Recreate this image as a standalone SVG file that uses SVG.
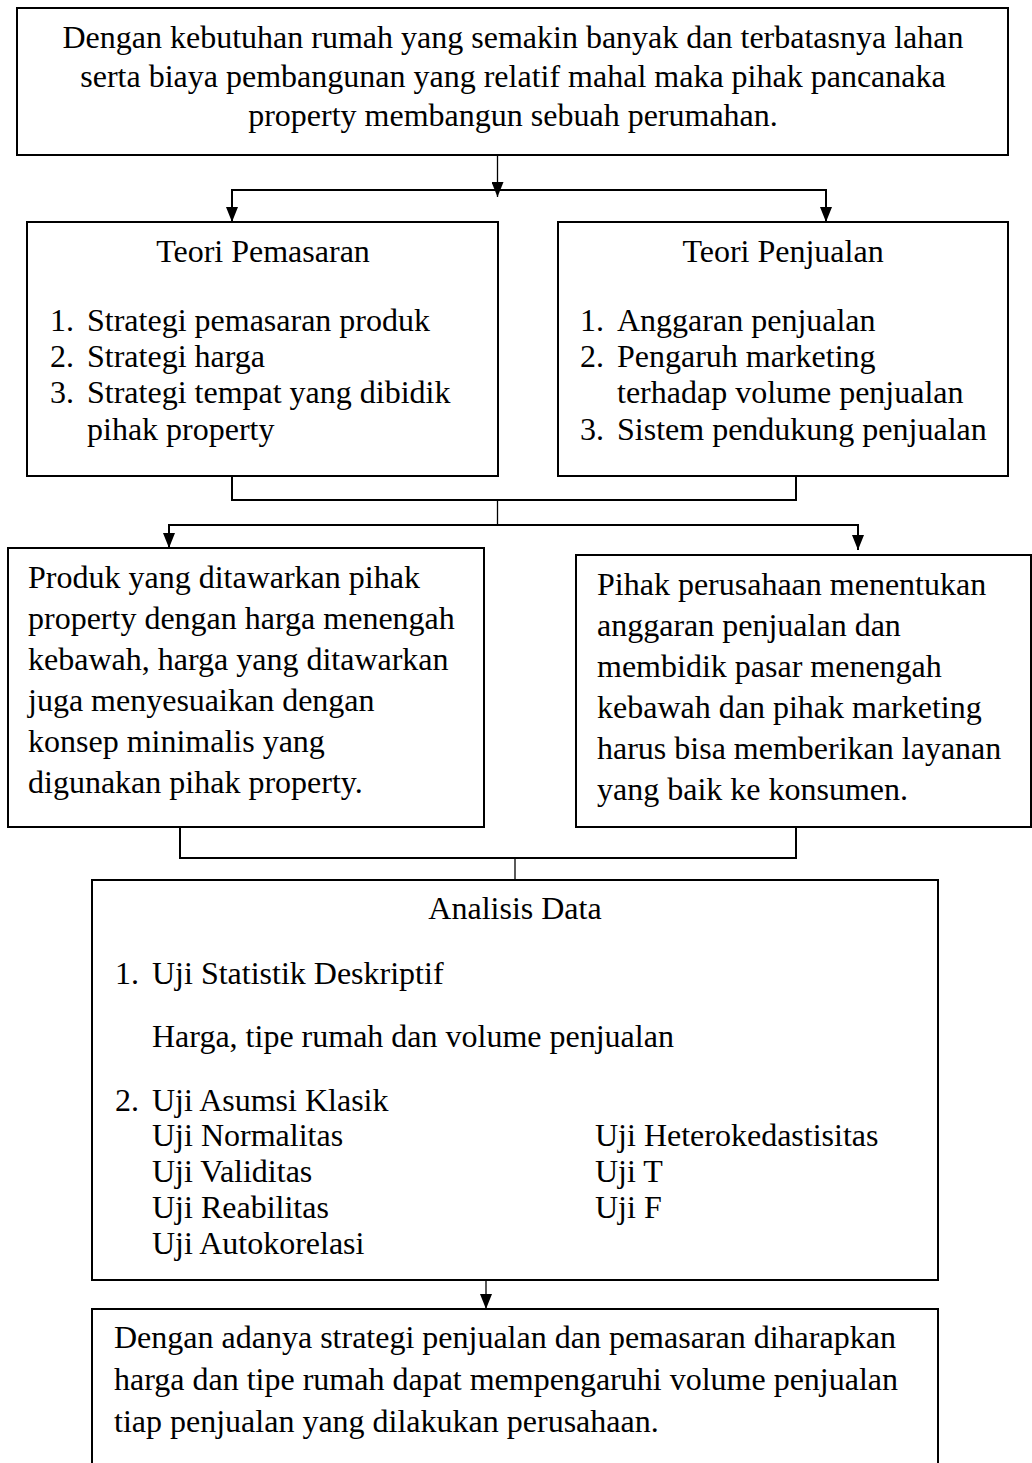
<svg xmlns="http://www.w3.org/2000/svg" width="1032" height="1463" viewBox="0 0 1032 1463">
<style>
text{font-family:"Liberation Serif","Times New Roman",serif;font-size:32px;fill:#000}
.c{text-anchor:middle}
.box{fill:#fff;stroke:#000;stroke-width:2}
.ln{fill:none;stroke:#000;stroke-width:2}
.thin{fill:none;stroke:#000;stroke-width:1.3}
</style>
<defs>
<marker id="ah" markerWidth="15" markerHeight="12" refX="15" refY="6" orient="auto-start-reverse" markerUnits="userSpaceOnUse" viewBox="0 0 15 12">
<path d="M0,0 L15,6 L0,12 Z" fill="#000"/>
</marker>
</defs>
<rect width="1032" height="1463" fill="#fff"/>
<g id="connectors">
<line class="thin" x1="497.5" y1="155" x2="497.5" y2="197" marker-end="url(#ah)"/>
<polyline class="ln" points="232,222 232,190 826,190 826,222" marker-start="url(#ah)" marker-end="url(#ah)"/>
<polyline class="ln" points="232,476 232,500 796,500 796,476"/>
<line class="thin" x1="497.5" y1="500" x2="497.5" y2="525"/>
<polyline class="ln" points="169,548 169,525 858,525 858,550" marker-start="url(#ah)" marker-end="url(#ah)"/>
<polyline class="ln" points="180,827 180,858 796,858 796,827"/>
<line class="thin" x1="515" y1="858" x2="515" y2="880"/>
<line class="thin" x1="486" y1="1280" x2="486" y2="1309" marker-end="url(#ah)"/>
</g>
<g id="n1">
<rect class="box" x="17" y="8" width="991" height="147"/>
<text class="c" x="513" y="48">Dengan kebutuhan rumah yang semakin banyak dan terbatasnya lahan</text>
<text class="c" x="513" y="87">serta biaya pembangunan yang relatif mahal maka pihak pancanaka</text>
<text class="c" x="513" y="126">property membangun sebuah perumahan.</text>
</g>
<g id="n2">
<rect class="box" x="27" y="222" width="471" height="254"/>
<text class="c" x="263" y="262">Teori Pemasaran</text>
<text x="50" y="331">1.</text><text x="87" y="331">Strategi pemasaran produk</text>
<text x="50" y="367">2.</text><text x="87" y="367">Strategi harga</text>
<text x="50" y="403">3.</text><text x="87" y="403">Strategi tempat yang dibidik</text>
<text x="87" y="440">pihak property</text>
</g>
<g id="n3">
<rect class="box" x="558" y="222" width="450" height="254"/>
<text class="c" x="783" y="262">Teori Penjualan</text>
<text x="580" y="331">1.</text><text x="617" y="331">Anggaran penjualan</text>
<text x="580" y="367">2.</text><text x="617" y="367">Pengaruh marketing</text>
<text x="617" y="403">terhadap volume penjualan</text>
<text x="580" y="440">3.</text><text x="617" y="440">Sistem pendukung penjualan</text>
</g>
<g id="n4">
<rect class="box" x="8" y="548" width="476" height="279"/>
<text x="28" y="588">Produk yang ditawarkan pihak</text>
<text x="28" y="629">property dengan harga menengah</text>
<text x="28" y="670">kebawah, harga yang ditawarkan</text>
<text x="28" y="711">juga menyesuaikan dengan</text>
<text x="28" y="752">konsep minimalis yang</text>
<text x="28" y="793">digunakan pihak property.</text>
</g>
<g id="n5">
<rect class="box" x="576" y="555" width="455" height="272"/>
<text x="597" y="595">Pihak perusahaan menentukan</text>
<text x="597" y="636">anggaran penjualan dan</text>
<text x="597" y="677">membidik pasar menengah</text>
<text x="597" y="718">kebawah dan pihak marketing</text>
<text x="597" y="759">harus bisa memberikan layanan</text>
<text x="597" y="800">yang baik ke konsumen.</text>
</g>
<g id="n6">
<rect class="box" x="92" y="880" width="846" height="400"/>
<text class="c" x="515" y="919">Analisis Data</text>
<text x="115" y="984">1.</text><text x="152" y="984">Uji Statistik Deskriptif</text>
<text x="152" y="1047">Harga, tipe rumah dan volume penjualan</text>
<text x="115" y="1111">2.</text><text x="152" y="1111">Uji Asumsi Klasik</text>
<text x="152" y="1146">Uji Normalitas</text>
<text x="152" y="1182">Uji Validitas</text>
<text x="152" y="1218">Uji Reabilitas</text>
<text x="152" y="1254">Uji Autokorelasi</text>
<text x="595" y="1146">Uji Heterokedastisitas</text>
<text x="595" y="1182">Uji T</text>
<text x="595" y="1218">Uji F</text>
</g>
<g id="n7">
<rect class="box" x="92" y="1309" width="846" height="170"/>
<text x="114" y="1348">Dengan adanya strategi penjualan dan pemasaran diharapkan</text>
<text x="114" y="1390">harga dan tipe rumah dapat mempengaruhi volume penjualan</text>
<text x="114" y="1432">tiap penjualan yang dilakukan perusahaan.</text>
</g>
</svg>
